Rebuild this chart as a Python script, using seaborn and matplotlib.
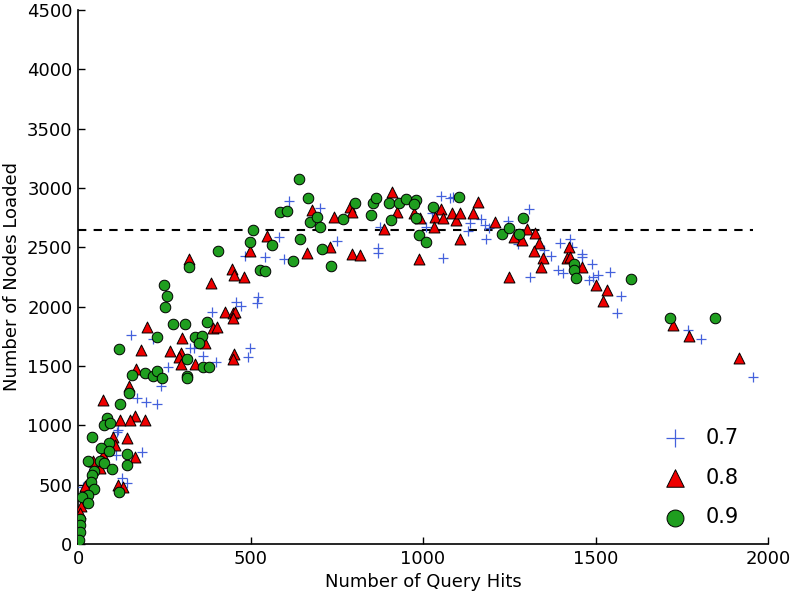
import matplotlib
matplotlib.use("Agg")
import matplotlib.pyplot as plt
import numpy as np
import pandas as pd
import seaborn as sns

# ---------------- data ----------------
series_labels = ["0.7", "0.8", "0.9"]

hits_07 = [612, 700, 583, 752, 542, 597, 870, 870, 875, 1009,
           518, 523, 1051, 1078, 1088, 1025, 1057, 1136, 1131, 1168,
           1180, 1192, 1182, 1247, 1274, 1308, 1310, 1397, 1426, 1431,
           1460, 1462, 1392, 1405, 1445, 1481, 1494, 1489, 1370, 1508,
           1542, 1574, 1561, 1769, 1806, 1957, 1351, 484, 458, 472,
           387, 153, 216, 325, 336, 363, 400, 499, 494, 262,
           240, 172, 197, 228, 117, 112, 110, 185, 127, 141,
           15, 47]
nodes_07 = [2893, 2829, 2590, 2556, 2421, 2399, 2492, 2450, 2674, 2669,
            2028, 2079, 2933, 2913, 2927, 2787, 2407, 2702, 2640, 2736,
            2688, 2660, 2568, 2725, 2528, 2820, 2252, 2539, 2568, 2505,
            2444, 2416, 2309, 2281, 2295, 2225, 2252, 2360, 2427, 2267,
            2290, 2090, 1949, 1803, 1725, 1410, 2478, 2427, 2037, 2006,
            1958, 1761, 1725, 1649, 1649, 1584, 1536, 1649, 1573, 1494,
            1331, 1228, 1199, 1177, 961, 946, 750, 778, 554, 517,
            483, 651]

hits_08 = [679, 549, 499, 665, 729, 742, 788, 795, 794, 817,
           888, 909, 925, 975, 991, 987, 1051, 1035, 1059, 1033,
           1085, 1096, 1107, 1146, 1158, 1107, 1209, 1249, 1264, 1286,
           1300, 1325, 1337, 1322, 1347, 1341, 1423, 1416, 1426, 1460,
           1501, 1532, 1521, 1725, 1771, 1916, 322, 446, 452, 481,
           386, 426, 450, 456, 448, 392, 402, 201, 301, 183,
           268, 368, 298, 293, 298, 340, 452, 450, 168, 149,
           73, 165, 122, 151, 194, 102, 107, 143, 165, 73,
           44, 64, 20, 115, 129, 9, 6]
nodes_08 = [2815, 2595, 2472, 2455, 2500, 2753, 2843, 2800, 2441, 2435,
            2654, 2963, 2800, 2787, 2745, 2402, 2823, 2753, 2745, 2669,
            2787, 2730, 2787, 2787, 2879, 2568, 2716, 2247, 2590, 2562,
            2654, 2618, 2539, 2472, 2407, 2337, 2500, 2407, 2416, 2337,
            2183, 2140, 2048, 1845, 1755, 1565, 2402, 2315, 2267, 2247,
            2197, 1958, 1944, 1958, 1902, 1818, 1831, 1826, 1739, 1635,
            1629, 1691, 1607, 1573, 1517, 1517, 1601, 1559, 1472, 1334,
            1213, 1081, 1045, 1045, 1045, 904, 834, 890, 731, 750,
            702, 638, 489, 497, 478, 320, 264]

hits_09 = [640, 668, 586, 607, 508, 499, 672, 692, 700, 643,
           561, 528, 542, 624, 706, 732, 767, 804, 848, 854,
           864, 902, 929, 950, 980, 975, 906, 980, 989, 1008,
           1030, 1105, 1228, 1250, 1277, 1291, 1438, 1438, 1443, 1603,
           1716, 1846, 405, 322, 250, 259, 253, 276, 309, 375,
           229, 338, 358, 350, 120, 315, 363, 380, 157, 195,
           216, 228, 244, 315, 315, 149, 123, 83, 76, 93,
           41, 91, 66, 91, 141, 141, 28, 64, 76, 99,
           47, 41, 37, 46, 30, 11, 30, 120, 6, 6,
           6, 4]
nodes_09 = [3075, 2913, 2795, 2806, 2648, 2542, 2716, 2753, 2674, 2573,
            2520, 2309, 2300, 2387, 2486, 2343, 2739, 2876, 2770, 2871,
            2918, 2871, 2876, 2907, 2899, 2868, 2730, 2745, 2604, 2542,
            2837, 2927, 2610, 2660, 2612, 2750, 2360, 2309, 2239, 2233,
            1902, 1902, 2469, 2332, 2185, 2090, 1994, 1854, 1854, 1871,
            1742, 1744, 1755, 1691, 1646, 1556, 1494, 1489, 1424, 1438,
            1416, 1455, 1396, 1416, 1396, 1270, 1177, 1059, 1003, 1017,
            904, 854, 812, 786, 758, 666, 702, 702, 685, 629,
            618, 581, 525, 461, 413, 399, 343, 441, 211, 160,
            99, 34]

threshold = 2650

x_ticks = [0, 500, 1000, 1500, 2000]
y_ticks = [0, 500, 1000, 1500, 2000, 2500, 3000, 3500, 4000, 4500]

# ---------------- styling ----------------
sns.set_style("ticks")
plt.rcParams["font.family"] = ["DejaVu Sans"]
plt.rcParams["text.color"] = "black"
plt.rcParams["axes.labelcolor"] = "black"

fig = plt.figure(figsize=(7.92, 5.94), dpi=100)
ax = fig.add_axes([0.0985, 0.0842, 0.8712, 0.899])

df07 = pd.DataFrame({"hits": hits_07, "nodes": nodes_07})
df08 = pd.DataFrame({"hits": hits_08, "nodes": nodes_08})
df09 = pd.DataFrame({"hits": hits_09, "nodes": nodes_09})

sns.scatterplot(data=df07, x="hits", y="nodes", marker="+", color="#4461dc",
                s=60, linewidth=0.9, ax=ax, label=series_labels[0], zorder=3)
sns.scatterplot(data=df08, x="hits", y="nodes", marker="^", color="#ee0000",
                edgecolor="black", s=62, linewidth=0.7, ax=ax,
                label=series_labels[1], zorder=4)
sns.scatterplot(data=df09, x="hits", y="nodes", marker="o", color="#1f9e1f",
                edgecolor="black", s=58, linewidth=0.7, ax=ax,
                label=series_labels[2], zorder=5)

all_hits = hits_07 + hits_08 + hits_09
ax.plot([0, max(all_hits)], [threshold, threshold], color="black",
        linestyle=(0, (4, 3.5)), linewidth=1.5, zorder=2)

ax.set_xlim(x_ticks[0], x_ticks[-1])
ax.set_ylim(y_ticks[0], y_ticks[-1])
ax.set_xticks(x_ticks)
ax.set_yticks(y_ticks)
ax.tick_params(direction="in", length=5, width=1, labelsize=13, pad=4,
               colors="black")
ax.set_xlabel("Number of Query Hits", fontsize=13, color="black")
ax.set_ylabel("Number of Nodes Loaded", fontsize=13, color="black")
sns.despine(ax=ax)
for sp in ["left", "bottom"]:
    ax.spines[sp].set_linewidth(1.2)
    ax.spines[sp].set_color("black")

leg = ax.legend(loc="lower right", bbox_to_anchor=(0.985, -0.004), frameon=False,
                fontsize=15, markerscale=1.6, labelspacing=0.95,
                handletextpad=0.45, scatterpoints=1)
for t in leg.get_texts():
    t.set_color("black")

fig.savefig("out.png", dpi=100)
